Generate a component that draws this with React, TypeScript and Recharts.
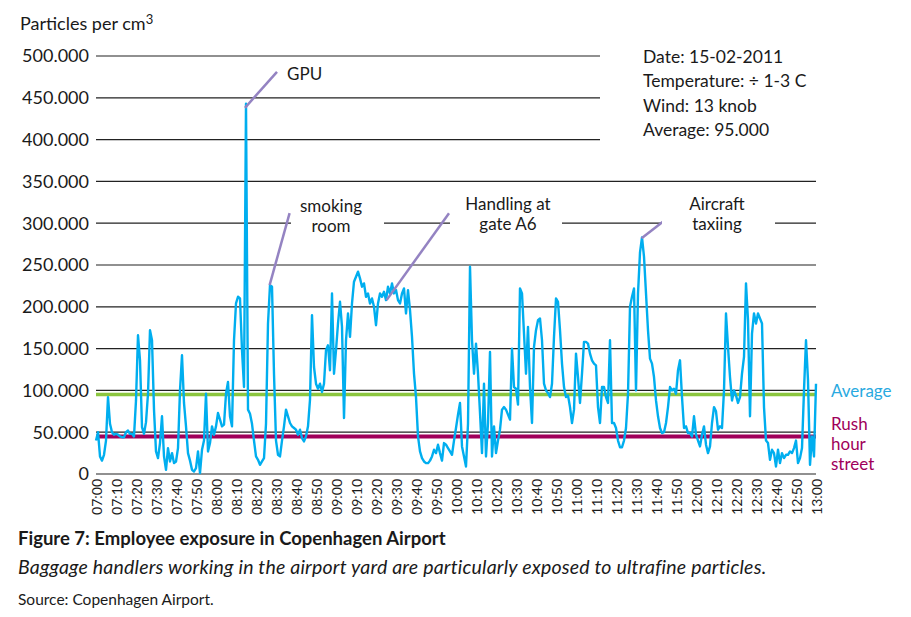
import { LineChart, Line, XAxis, YAxis, CartesianGrid, ReferenceLine } from 'recharts'

// particles per cm3, in thousands, one reading per minute
const MIN_07 = [
  40, 50, 21, 16, 23, 40, 92, 60, 50, 47,
  48, 47, 45, 44, 44, 50, 52, 48, 48, 45,
  88, 166, 136, 56, 48, 62, 96, 172, 160, 77,
  27, 19, 37, 69, 21, 5, 31, 15, 25, 13,
  15, 31, 100, 142, 85, 57, 25, 16, 5, 3,
  7, 27, 1, 29, 40, 96, 27, 37, 57, 47,
]
const MIN_08 = [
  57, 73, 65, 57, 59, 96, 110, 69, 57, 160,
  204, 212, 210, 148, 104, 443, 77, 72, 60, 40,
  21, 17, 11, 15, 19, 60, 180, 226, 224, 120,
  40, 23, 21, 40, 57, 77, 69, 61, 57, 55,
  53, 47, 53, 43, 39, 45, 57, 89, 190, 128,
  108, 102, 108, 98, 108, 148, 154, 124, 216, 120,
]
const MIN_09 = [
  148, 180, 206, 176, 67, 160, 192, 164, 204, 230,
  236, 242, 234, 224, 228, 212, 216, 204, 210, 200,
  178, 204, 216, 212, 218, 208, 224, 216, 228, 216,
  220, 208, 204, 216, 222, 192, 220, 196, 164, 120,
  92, 45, 27, 19, 15, 13, 13, 16, 21, 29,
  25, 35, 25, 16, 37, 35, 31, 27, 23, 40,
]
const MIN_10 = [
  55, 71, 85, 33, 21, 9, 60, 248, 160, 120,
  156, 120, 73, 25, 108, 21, 61, 146, 21, 57,
  25, 40, 53, 77, 80, 77, 71, 65, 150, 104,
  102, 83, 222, 216, 168, 120, 176, 104, 61, 152,
  172, 184, 186, 160, 108, 100, 97, 92, 108, 164,
  210, 206, 172, 132, 104, 92, 94, 80, 61, 77,
]
const MIN_11 = [
  144, 116, 85, 120, 158, 158, 156, 144, 136, 132,
  130, 80, 61, 104, 104, 92, 85, 160, 61, 61,
  55, 40, 32, 32, 40, 55, 96, 200, 212, 222,
  100, 216, 265, 283, 260, 216, 172, 138, 132, 116,
  88, 69, 55, 49, 50, 61, 80, 104, 100, 102,
  96, 124, 136, 92, 55, 57, 49, 49, 45, 69,
]
const MIN_12 = [
  47, 40, 33, 47, 57, 35, 25, 33, 61, 80,
  75, 53, 57, 55, 100, 192, 152, 116, 88, 100,
  94, 85, 92, 120, 140, 228, 184, 69, 168, 192,
  180, 192, 186, 180, 80, 40, 37, 17, 29, 25,
  9, 29, 13, 25, 19, 23, 23, 27, 25, 31,
  40, 13, 19, 31, 100, 160, 112, 11, 45, 21,
]
const MIN_13 = [108]

const TIME_LABELS = [
  '07:00', '07:10', '07:20', '07:30', '07:40', '07:50',
  '08:00', '08:10', '08:20', '08:30', '08:40', '08:50',
  '09:00', '09:10', '09:20', '09:30', '09:40', '09:50',
  '10:00', '10:10', '10:20', '10:30', '10:40', '10:50',
  '11:00', '11:10', '11:20', '11:30', '11:40', '11:50',
  '12:00', '12:10', '12:20', '12:30', '12:40', '12:50',
  '13:00',
]
const Y_TICKS = [0, 50, 100, 150, 200, 250, 300, 350, 400, 450, 500]

const AVERAGE = 95
const RUSH_HOUR_STREET = 45

// pointer lines from each event to its caption, in (minute, thousands)
const POINTERS = [
  { name: 'GPU', from: [74.5, 438], to: [90.5, 481] },
  { name: 'smoking room', from: [86.8, 226], to: [96.8, 312] },
  { name: 'Handling at gate A6', from: [145.3, 208], to: [176.5, 312] },
  { name: 'Aircraft taxiing', from: [272.8, 282], to: [288.9, 312] },
]

const FONT = 'Lato, "Open Sans", sans-serif'
const INK = '#1a1a1a'
const BLUE = '#00aeef'
const GREEN = '#8cc63f'
const PLUM = '#a0005a'
const PURPLE = '#9483c2'

const data = [...MIN_07, ...MIN_08, ...MIN_09, ...MIN_10, ...MIN_11, ...MIN_12, ...MIN_13].map(
  (value, minute) => ({ minute, value })
)
const xTicks = TIME_LABELS.map((_, i) => i * 10)

function TimeTick({ x, y, payload }: any) {
  return (
    <text
      x={x}
      y={y}
      transform={`rotate(-90 ${x} ${y})`}
      textAnchor="end"
      dominantBaseline="central"
      fontSize={14}
      fontFamily={FONT}
      fill={INK}
    >
      {TIME_LABELS[Math.round(payload.value / 10)]}
    </text>
  )
}

const abs = (left: number, top: number, extra: React.CSSProperties = {}): React.CSSProperties => ({
  position: 'absolute',
  left,
  top,
  ...extra,
})

function Mask({ left, top, width, height }: { left: number; top: number; width: number; height: number }) {
  return <div style={abs(left, top, { width, height, background: '#fff' })} />
}

function Caption({ cx, top, lines }: { cx: number; top: number; lines: string[] }) {
  return (
    <div style={abs(cx - 60, top, { width: 120, textAlign: 'center', fontSize: 17, lineHeight: '20px' })}>
      {lines.map((l) => (
        <div key={l} style={{ whiteSpace: 'nowrap' }}>{l}</div>
      ))}
    </div>
  )
}

export default function App() {
  return (
    <div style={abs(0, 0, { width: 911, height: 617, background: '#fff', fontFamily: FONT, color: INK, overflow: 'hidden' })}>
      <div style={abs(20, 12, { fontSize: 18, lineHeight: '22px', whiteSpace: 'nowrap' })}>
        Particles per cm<sup style={{ fontSize: 13, verticalAlign: 6, lineHeight: 0 }}>3</sup>
      </div>

      <div style={abs(0, 0)}>
        <LineChart width={911} height={520} data={data} margin={{ top: 56, right: 95, bottom: 0, left: 0 }}>
          <CartesianGrid vertical={false} stroke="#222" strokeWidth={1.2} />
          <XAxis
            dataKey="minute"
            type="number"
            domain={[0, 360]}
            ticks={xTicks}
            interval={0}
            axisLine={false}
            tickLine={false}
            tickSize={0}
            tickMargin={5}
            height={46}
            tick={(props: any) => <TimeTick {...props} />}
          />
          <YAxis
            type="number"
            domain={[0, 500]}
            ticks={Y_TICKS}
            interval={0}
            axisLine={false}
            tickLine={false}
            tickSize={0}
            tickMargin={7}
            width={96}
            tick={{ fontSize: 18, fill: INK, fontFamily: FONT }}
            tickFormatter={(v: number) => (v === 0 ? '0' : `${v}.000`)}
          />
          <ReferenceLine y={AVERAGE} stroke={GREEN} strokeWidth={3.5} />
          <ReferenceLine y={RUSH_HOUR_STREET} stroke={PLUM} strokeWidth={4} />
          <Line
            type="linear"
            dataKey="value"
            stroke={BLUE}
            strokeWidth={2.4}
            strokeLinejoin="round"
            dot={false}
            isAnimationActive={false}
          />
          {POINTERS.map((p) => (
            <ReferenceLine
              key={p.name}
              segment={[
                { x: p.from[0], y: p.from[1] },
                { x: p.to[0], y: p.to[1] },
              ]}
              stroke={PURPLE}
              strokeWidth={2.5}
            />
          ))}
        </LineChart>
      </div>

      {/* caption boxes knock the grid out behind them */}
      <Mask left={600} top={40} width={311} height={110} />
      <Mask left={291} top={194} width={93} height={42} />
      <Mask left={450} top={194} width={112} height={42} />
      <Mask left={662} top={194} width={113} height={42} />

      <div style={abs(287, 64, { fontSize: 17, lineHeight: '20px' })}>GPU</div>
      <Caption cx={331} top={196} lines={['smoking', 'room']} />
      <Caption cx={508} top={194} lines={['Handling at', 'gate A6']} />
      <Caption cx={717} top={194} lines={['Aircraft', 'taxiing']} />

      <div style={abs(643, 45, { fontSize: 17.5, lineHeight: '24.3px', whiteSpace: 'nowrap' })}>
        <div>Date: 15-02-2011</div>
        <div>Temperature: ÷ 1-3 C</div>
        <div>Wind: 13 knob</div>
        <div>Average: 95.000</div>
      </div>

      <div style={abs(831, 381, { fontSize: 17, lineHeight: '20px', color: '#29a9e0' })}>Average</div>
      <div style={abs(831, 414, { fontSize: 17, lineHeight: '20px', color: PLUM })}>
        <div>Rush</div>
        <div>hour</div>
        <div>street</div>
      </div>

      <div style={abs(18, 527, { fontSize: 18.5, lineHeight: '22px', fontWeight: 700, whiteSpace: 'nowrap' })}>
        Figure 7: Employee exposure in Copenhagen Airport
      </div>
      <div style={abs(18, 556, { fontSize: 19.5, lineHeight: '22px', fontStyle: 'italic', letterSpacing: 0.2, whiteSpace: 'nowrap' })}>
        Baggage handlers working in the airport yard are particularly exposed to ultrafine particles.
      </div>
      <div style={abs(18, 590, { fontSize: 15.5, lineHeight: '18px', whiteSpace: 'nowrap' })}>
        Source: Copenhagen Airport.
      </div>
    </div>
  )
}
